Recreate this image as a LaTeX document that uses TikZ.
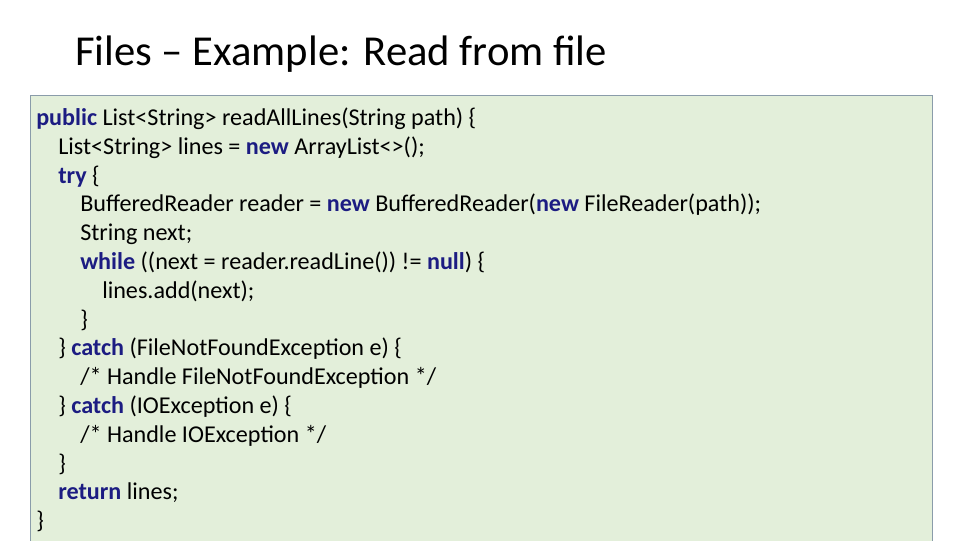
\documentclass[tikz,border=0pt]{standalone}
\usepackage{fontspec}
\setmainfont{Carlito}
\definecolor{codebg}{HTML}{E3EFDA}
\definecolor{codeframe}{HTML}{8A9CAA}
\definecolor{kwblue}{HTML}{1C1C82}
\newcommand{\kw}[1]{\textbf{\textcolor{kwblue}{#1}}}

\begin{document}
\begin{tikzpicture}[x=0.75pt,y=-0.75pt,
    codeline/.style={anchor=base west,inner sep=0pt,font=\fontsize{18.1}{21}\selectfont}]

                \useasboundingbox (0,0) rectangle (960,540);

                \node[anchor=base west,inner sep=0pt,font=\fontsize{32}{38}\selectfont] (title) at (75,65) {Files – Example: Read from file};

                \draw[codeframe,fill=codebg] (30,95) rectangle (932,545);

                % code lines, 28.8px apart, 22px per indent
                \node[codeline] (l1) at (36,125) {\kw{public} List<String> readAllLines(String path) \{};
                \node[codeline] (l2) at (58,154) {List<String> lines = \kw{new} ArrayList<>();};
                \node[codeline] (l3) at (58,183) {\kw{try} \{};
                \node[codeline] (l4) at (80,211) {BufferedReader reader = \kw{new} BufferedReader(\kw{new} FileReader(path));};
                \node[codeline] (l5) at (80,240) {String next;};
                \node[codeline] (l6) at (80,269) {\kw{while} ((next = reader.readLine()) != \kw{null}) \{};
                \node[codeline] (l7) at (102,298) {lines.add(next);};
                \node[codeline] (l8) at (80,327) {\}};
                \node[codeline] (l9) at (58,355) {\} \kw{catch} (FileNotFoundException e) \{};
                \node[codeline] (l10) at (80,384) {/* Handle FileNotFoundException */};
                \node[codeline] (l11) at (58,413) {\} \kw{catch} (IOException e) \{};
                \node[codeline] (l12) at (80,442) {/* Handle IOException */};
                \node[codeline] (l13) at (58,471) {\}};
                \node[codeline] (l14) at (58,499) {\kw{return} lines;};
                \node[codeline] (l15) at (36,528) {\}};

            \end{tikzpicture}
\end{document}
